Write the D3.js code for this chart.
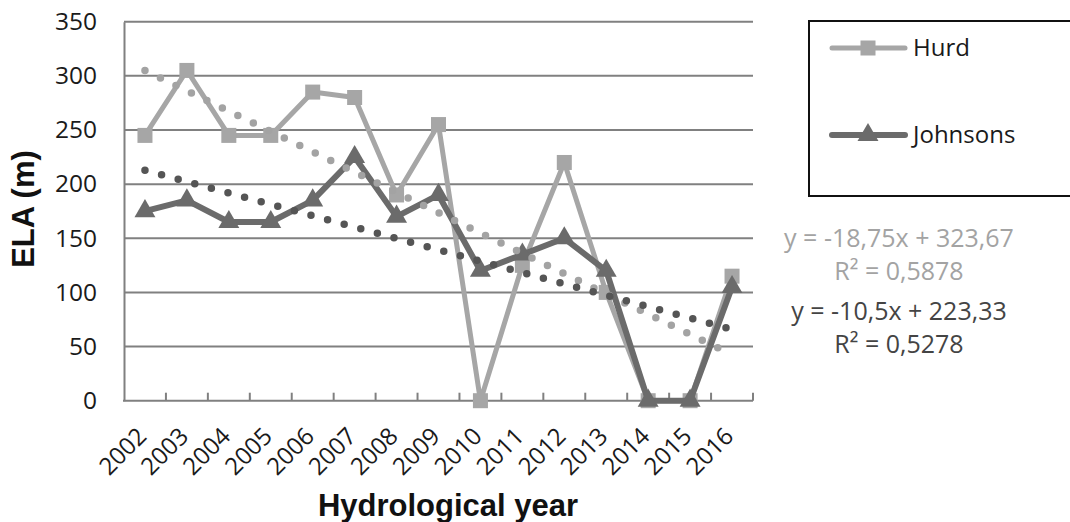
<!DOCTYPE html>
<html>
<head>
<meta charset="utf-8">
<script src="https://cdn.jsdelivr.net/npm/d3@7"></script>
<style>
  html, body { margin: 0; padding: 0; background: #fff; }
  svg { display: block; }
</style>
</head>
<body>
<svg id="chart" width="1070" height="522"></svg>
<script>
// ---- Data ----
const years = ["2002","2003","2004","2005","2006","2007","2008","2009","2010","2011","2012","2013","2014","2015","2016"];
const hurd = [245, 305, 245, 245, 285, 280, 190, 255, 0, 125, 220, 100, 0, 0, 115];
const johnsons = [175, 185, 165, 165, 185, 225, 170, 190, 120, 135, 150, 120, 0, 0, 105];
const yTicks = [0, 50, 100, 150, 200, 250, 300, 350];
const seriesNames = ["Hurd", "Johnsons"];
// Linear trendline coefficients (x = 1..n), as shown on the chart
const hurdTrend = [-18.75, 323.67];
const johnsonsTrend = [-10.5, 223.33];
const equationLabels = ["y = -18,75x + 323,67", "R² = 0,5878", "y = -10,5x + 223,33", "R² = 0,5278"];
const xTitle = "Hydrological year";
const yTitle = "ELA (m)";

// ---- Styles ----
const cHurd = "#a6a6a6";
const cJohn = "#6b6b6b";
const cHurdTrend = "#a3a3a3";
const cJohnTrend = "#555555";
const cGrid = "#808080";
const tickFont = "'Open Sans', sans-serif";
const titleFont = "'Liberation Sans', Arial, sans-serif";

const svg = d3.select("#chart");
const pLeft = 124, pRight = 753, pTop = 21.7, pBottom = 400.7;

const x = d3.scaleBand().domain(years).range([pLeft, pRight]).padding(0);
const y = d3.scaleLinear().domain([0, 350]).range([pBottom, pTop]);
const cx = d => x(d) + x.bandwidth() / 2;

// gridlines
svg.append("g").selectAll("line").data(yTicks.filter(t => t > 0)).join("line")
  .attr("x1", pLeft).attr("x2", pRight)
  .attr("y1", d => y(d)).attr("y2", d => y(d))
  .attr("stroke", cGrid).attr("stroke-width", 2);

// y axis (left line + labels)
const yAxis = d3.axisLeft(y).tickValues(yTicks).tickSize(0).tickPadding(27);
const gy = svg.append("g").attr("transform", `translate(${pLeft},0)`).call(yAxis);
gy.select(".domain").attr("stroke", cGrid).attr("stroke-width", 2);
gy.selectAll("text").attr("font-family", tickFont).attr("font-size", 24.5).attr("fill", "#1a1a1a");

// x axis line + inner ticks at band boundaries
const boundaries = years.map(d => x(d)).concat([pRight]);
svg.append("line").attr("x1", pLeft - 1).attr("x2", pRight)
  .attr("y1", pBottom).attr("y2", pBottom)
  .attr("stroke", cGrid).attr("stroke-width", 2);
svg.append("g").selectAll("line").data(boundaries.slice(1)).join("line")
  .attr("x1", d => d).attr("x2", d => d)
  .attr("y1", pBottom).attr("y2", pBottom - 8)
  .attr("stroke", cGrid).attr("stroke-width", 2);

// x labels rotated
svg.append("g").selectAll("text").data(years).join("text")
  .attr("transform", d => `translate(${cx(d) + 3},${pBottom + 37}) rotate(-45)`)
  .attr("text-anchor", "end")
  .attr("font-family", tickFont).attr("font-size", 24).attr("fill", "#1a1a1a")
  .text(d => d);

// series lines
const line = d3.line().x((d, i) => cx(years[i])).y(d => y(d));
svg.append("path").datum(hurd).attr("d", line)
  .attr("fill", "none").attr("stroke", cHurd).attr("stroke-width", 5).attr("stroke-linejoin", "round");
svg.append("g").selectAll("rect").data(hurd).join("rect")
  .attr("x", (d, i) => cx(years[i]) - 7.5).attr("y", d => y(d) - 7.5)
  .attr("width", 15).attr("height", 15).attr("fill", cHurd);

svg.append("path").datum(johnsons).attr("d", line)
  .attr("fill", "none").attr("stroke", cJohn).attr("stroke-width", 6).attr("stroke-linejoin", "round");
const tri = d3.symbol().type(d3.symbolTriangle).size(190);
svg.append("g").selectAll("path").data(johnsons).join("path")
  .attr("transform", (d, i) => `translate(${cx(years[i])},${y(d)})`)
  .attr("d", tri).attr("fill", cJohn);

// trendlines (dotted)
function trend(coef, color) {
  const pts = [1, years.length].map(n => [cx(years[n - 1]), y(coef[0] * n + coef[1])]);
  svg.append("line")
    .attr("x1", pts[0][0]).attr("y1", pts[0][1]).attr("x2", pts[1][0]).attr("y2", pts[1][1])
    .attr("stroke", color).attr("stroke-width", 7.5).attr("stroke-linecap", "round")
    .attr("stroke-dasharray", "0 17.2");
}
trend(hurdTrend, cHurdTrend);
trend(johnsonsTrend, cJohnTrend);

// titles
svg.append("text").attr("x", 448).attr("y", 516).attr("text-anchor", "middle")
  .attr("font-family", titleFont).attr("font-weight", "bold").attr("font-size", 31)
  .attr("fill", "#111").text(xTitle);
svg.append("text").attr("transform", "translate(34,209) rotate(-90)").attr("text-anchor", "middle")
  .attr("font-family", titleFont).attr("font-weight", "bold").attr("font-size", 31)
  .attr("fill", "#111").text(yTitle);

// legend
const lg = svg.append("g");
lg.append("rect").attr("x", 809).attr("y", 21).attr("width", 300).attr("height", 175)
  .attr("fill", "#fff").attr("stroke", "#111").attr("stroke-width", 2);
const legendRows = [
  { name: seriesNames[0], color: cHurd, y: 48, marker: "square", w: 5 },
  { name: seriesNames[1], color: cJohn, y: 135, marker: "triangle", w: 6 }
];
legendRows.forEach(r => {
  lg.append("line").attr("x1", 832).attr("x2", 905).attr("y1", r.y).attr("y2", r.y)
    .attr("stroke", r.color).attr("stroke-width", r.w).attr("stroke-linecap", "round");
  if (r.marker === "square") {
    lg.append("rect").attr("x", 868 - 7.5).attr("y", r.y - 7.5).attr("width", 15).attr("height", 15).attr("fill", r.color);
  } else {
    lg.append("path").attr("transform", `translate(868,${r.y})`).attr("d", tri).attr("fill", r.color);
  }
  lg.append("text").attr("x", 913).attr("y", r.y).attr("dy", "0.35em")
    .attr("font-family", tickFont).attr("font-size", 24).attr("fill", "#1a1a1a").text(r.name);
});

// trendline equations
const eqY = [238, 271, 311, 344];
const eqColors = [cHurdTrend, cHurdTrend, "#444", "#444"];
svg.append("g").selectAll("text").data(equationLabels).join("text")
  .attr("x", 899).attr("y", (d, i) => eqY[i]).attr("dy", "0.35em")
  .attr("text-anchor", "middle")
  .attr("font-family", tickFont).attr("font-size", 25)
  .attr("fill", (d, i) => eqColors[i]).text(d => d);
</script>
</body>
</html>
